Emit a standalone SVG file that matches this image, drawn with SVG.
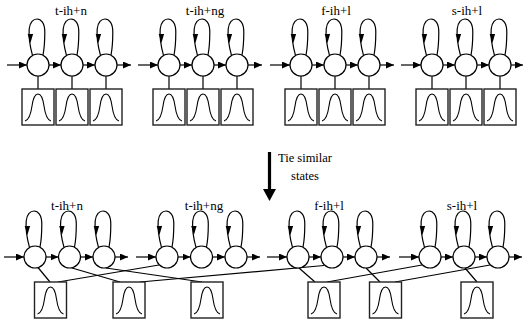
<svg xmlns="http://www.w3.org/2000/svg" xmlns:xlink="http://www.w3.org/1999/xlink" width="523" height="322" viewBox="0 0 523 322">
  <style>
    .st { fill: #fff; stroke: #000; stroke-width: 1.2; }
    .loop { fill: none; stroke: #000; stroke-width: 1.2; }
    .box { fill: #fff; stroke: #222; stroke-width: 1.4; }
    .bell { fill: none; stroke: #000; stroke-width: 1.1; }
    .ln { stroke: #000; stroke-width: 1.2; fill: none; }
    .arr { stroke: #000; stroke-width: 1.2; fill: none; marker-end: url(#ah); }
    .lbl { font-family: "Liberation Serif", "Times New Roman", serif; font-size: 13px; fill: #000; text-anchor: middle; }
    .note { font-family: "Liberation Serif", "Times New Roman", serif; font-size: 12.5px; fill: #000; text-anchor: middle; }
  </style>
  <defs>
    <marker id="ah" markerUnits="userSpaceOnUse" markerWidth="8" markerHeight="7" refX="8" refY="3.5" orient="auto">
      <path d="M0,0 L8,3.5 L0,7 z" fill="#000"/>
    </marker>
    <!-- HMM state: circle with self-loop, origin at circle centre -->
    <g id="state">
      <path class="loop" d="M -5.5,-9.6 C -7,-15 -9.5,-28 -8.8,-36 C -8.2,-43 -4.5,-46 -1,-46 C 3,-46 6.8,-42 6.8,-33 C 6.8,-23 6,-15 5,-10"/>
      <polygon points="-7.6,-22 -10.3,-31 -4.9,-31" fill="#000"/>
      <circle class="st" r="11"/>
    </g>
    <!-- output distribution: box with a gaussian, origin at top centre -->
    <g id="pdf">
      <rect class="box" x="-16" y="0" width="32" height="36"/>
      <path class="bell" d="M -13,32 C -8.5,31 -7,24 -6,17 C -4.8,8.5 -3,5 0,5 C 3,5 4.8,8.5 6,17 C 7,24 8.5,31 13,32"/>
    </g>
  </defs>

  <!-- labels -->
  <g id="labels">
    <text class="lbl" x="71" y="15">t-ih+n</text>
    <text class="lbl" x="205" y="15">t-ih+ng</text>
    <text class="lbl" x="336" y="15">f-ih+l</text>
    <text class="lbl" x="467" y="15">s-ih+l</text>
    <text class="lbl" x="67" y="210">t-ih+n</text>
    <text class="lbl" x="204" y="210">t-ih+ng</text>
    <text class="lbl" x="329" y="210">f-ih+l</text>
    <text class="lbl" x="462" y="210">s-ih+l</text>
  </g>

  <!-- connectors -->
  <g id="connectors">
    <!-- upper row: transitions -->
    <line class="arr" x1="7" y1="65" x2="27" y2="65"/>
    <line class="arr" x1="49" y1="65" x2="61" y2="65"/>
    <line class="arr" x1="83" y1="65" x2="95" y2="65"/>
    <line class="arr" x1="117" y1="65" x2="131" y2="65"/>
    <line class="arr" x1="138" y1="65" x2="158" y2="65"/>
    <line class="arr" x1="180" y1="65" x2="192" y2="65"/>
    <line class="arr" x1="214" y1="65" x2="226" y2="65"/>
    <line class="arr" x1="248" y1="65" x2="262" y2="65"/>
    <line class="arr" x1="270" y1="65" x2="290" y2="65"/>
    <line class="arr" x1="312" y1="65" x2="324" y2="65"/>
    <line class="arr" x1="346" y1="65" x2="358" y2="65"/>
    <line class="arr" x1="380" y1="65" x2="394" y2="65"/>
    <line class="arr" x1="401" y1="65" x2="421" y2="65"/>
    <line class="arr" x1="443" y1="65" x2="455" y2="65"/>
    <line class="arr" x1="477" y1="65" x2="489" y2="65"/>
    <line class="arr" x1="511" y1="65" x2="523" y2="65"/>
    <!-- upper row: state to output -->
    <line class="ln" x1="38" y1="76" x2="38" y2="89"/>
    <line class="ln" x1="72" y1="76" x2="72" y2="89"/>
    <line class="ln" x1="106" y1="76" x2="106" y2="89"/>
    <line class="ln" x1="169" y1="76" x2="169" y2="89"/>
    <line class="ln" x1="203" y1="76" x2="203" y2="89"/>
    <line class="ln" x1="237" y1="76" x2="237" y2="89"/>
    <line class="ln" x1="301" y1="76" x2="301" y2="89"/>
    <line class="ln" x1="335" y1="76" x2="335" y2="89"/>
    <line class="ln" x1="369" y1="76" x2="369" y2="89"/>
    <line class="ln" x1="432" y1="76" x2="432" y2="89"/>
    <line class="ln" x1="466" y1="76" x2="466" y2="89"/>
    <line class="ln" x1="500" y1="76" x2="500" y2="89"/>

    <!-- lower row: transitions -->
    <line class="arr" x1="4" y1="257" x2="24" y2="257"/>
    <line class="arr" x1="46" y1="257" x2="58.5" y2="257"/>
    <line class="arr" x1="80.5" y1="257" x2="93" y2="257"/>
    <line class="arr" x1="115" y1="257" x2="128" y2="257"/>
    <line class="arr" x1="136" y1="257" x2="156" y2="257"/>
    <line class="arr" x1="178" y1="257" x2="190.5" y2="257"/>
    <line class="arr" x1="212.5" y1="257" x2="225" y2="257"/>
    <line class="arr" x1="247" y1="257" x2="260" y2="257"/>
    <line class="arr" x1="267" y1="257" x2="287" y2="257"/>
    <line class="arr" x1="309" y1="257" x2="321" y2="257"/>
    <line class="arr" x1="343" y1="257" x2="355" y2="257"/>
    <line class="arr" x1="377" y1="257" x2="390" y2="257"/>
    <line class="arr" x1="399" y1="257" x2="419" y2="257"/>
    <line class="arr" x1="441" y1="257" x2="453" y2="257"/>
    <line class="arr" x1="475" y1="257" x2="487" y2="257"/>
    <line class="arr" x1="509" y1="257" x2="522" y2="257"/>
    <!-- lower row: tied states to shared outputs -->
    <line class="ln" x1="38" y1="267.5" x2="50" y2="282"/>
    <line class="ln" x1="159" y1="265" x2="58" y2="282"/>
    <line class="ln" x1="72" y1="268" x2="120" y2="282"/>
    <line class="ln" x1="324" y1="265.5" x2="140" y2="282"/>
    <line class="ln" x1="106" y1="268" x2="202" y2="282"/>
    <line class="ln" x1="299" y1="268" x2="315" y2="282"/>
    <line class="ln" x1="422" y1="265" x2="327" y2="282"/>
    <line class="ln" x1="366" y1="268" x2="380" y2="282"/>
    <line class="ln" x1="490" y1="265" x2="395" y2="282"/>
    <line class="ln" x1="465" y1="268" x2="477" y2="282"/>
  </g>

  <!-- upper row: separate models -->
  <g id="top-t-ih-n">
    <use id="t1_s1" xlink:href="#state" x="38" y="65"/>
    <use id="t1_s2" xlink:href="#state" x="72" y="65"/>
    <use id="t1_s3" xlink:href="#state" x="106" y="65"/>
    <use id="t1_p1" xlink:href="#pdf" x="38" y="89"/>
    <use id="t1_p2" xlink:href="#pdf" x="72" y="89"/>
    <use id="t1_p3" xlink:href="#pdf" x="106" y="89"/>
  </g>
  <g id="top-t-ih-ng">
    <use id="t2_s1" xlink:href="#state" x="169" y="65"/>
    <use id="t2_s2" xlink:href="#state" x="203" y="65"/>
    <use id="t2_s3" xlink:href="#state" x="237" y="65"/>
    <use id="t2_p1" xlink:href="#pdf" x="169" y="89"/>
    <use id="t2_p2" xlink:href="#pdf" x="203" y="89"/>
    <use id="t2_p3" xlink:href="#pdf" x="237" y="89"/>
  </g>
  <g id="top-f-ih-l">
    <use id="t3_s1" xlink:href="#state" x="301" y="65"/>
    <use id="t3_s2" xlink:href="#state" x="335" y="65"/>
    <use id="t3_s3" xlink:href="#state" x="369" y="65"/>
    <use id="t3_p1" xlink:href="#pdf" x="301" y="89"/>
    <use id="t3_p2" xlink:href="#pdf" x="335" y="89"/>
    <use id="t3_p3" xlink:href="#pdf" x="369" y="89"/>
  </g>
  <g id="top-s-ih-l">
    <use id="t4_s1" xlink:href="#state" x="432" y="65"/>
    <use id="t4_s2" xlink:href="#state" x="466" y="65"/>
    <use id="t4_s3" xlink:href="#state" x="500" y="65"/>
    <use id="t4_p1" xlink:href="#pdf" x="432" y="89"/>
    <use id="t4_p2" xlink:href="#pdf" x="466" y="89"/>
    <use id="t4_p3" xlink:href="#pdf" x="500" y="89"/>
  </g>

  <!-- tying step -->
  <g id="tie-arrow">
    <line x1="269.5" y1="152" x2="269.5" y2="191" stroke="#000" stroke-width="3.2"/>
    <polygon points="263,189 276,189 269.5,201" fill="#000"/>
    <text class="note" x="305" y="162">Tie similar</text>
    <text class="note" x="305" y="180">states</text>
  </g>

  <!-- lower row: states -->
  <g id="bot-t-ih-n">
    <use id="b1_s1" xlink:href="#state" x="35" y="257"/>
    <use id="b1_s2" xlink:href="#state" x="69.5" y="257"/>
    <use id="b1_s3" xlink:href="#state" x="104" y="257"/>
  </g>
  <g id="bot-t-ih-ng">
    <use id="b2_s1" xlink:href="#state" x="167" y="257"/>
    <use id="b2_s2" xlink:href="#state" x="201.5" y="257"/>
    <use id="b2_s3" xlink:href="#state" x="236" y="257"/>
  </g>
  <g id="bot-f-ih-l">
    <use id="b3_s1" xlink:href="#state" x="298" y="257"/>
    <use id="b3_s2" xlink:href="#state" x="332" y="257"/>
    <use id="b3_s3" xlink:href="#state" x="366" y="257"/>
  </g>
  <g id="bot-s-ih-l">
    <use id="b4_s1" xlink:href="#state" x="430" y="257"/>
    <use id="b4_s2" xlink:href="#state" x="464" y="257"/>
    <use id="b4_s3" xlink:href="#state" x="498" y="257"/>
  </g>

  <!-- lower row: shared output distributions -->
  <g id="pdf-L1"><use xlink:href="#pdf" x="50.5" y="282"/></g>
  <g id="pdf-L2"><use xlink:href="#pdf" x="129" y="282"/></g>
  <g id="pdf-L3"><use xlink:href="#pdf" x="207" y="282"/></g>
  <g id="pdf-R1"><use xlink:href="#pdf" x="324" y="282"/></g>
  <g id="pdf-R2"><use xlink:href="#pdf" x="385.5" y="282"/></g>
  <g id="pdf-R3"><use xlink:href="#pdf" x="477" y="282"/></g>
</svg>
